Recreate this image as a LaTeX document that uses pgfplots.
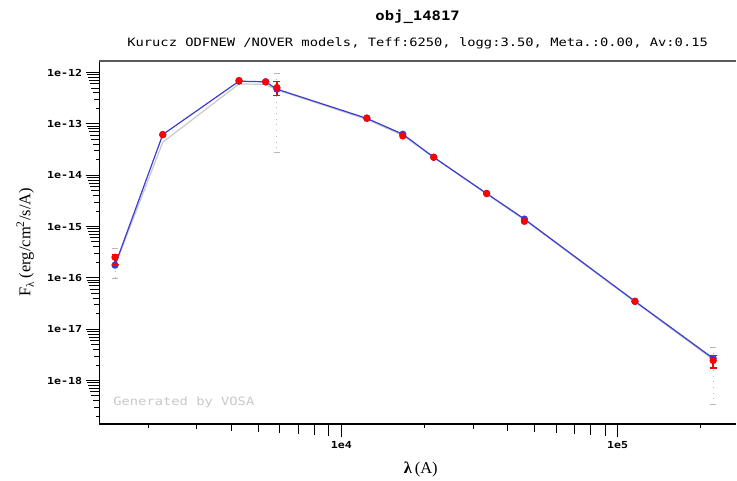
\documentclass[border=0pt]{standalone}
\usepackage{fontspec}
\usepackage{pgfplots}
\pgfplotsset{compat=1.18}
\newfontfamily\vmono[FakeStretch=1.2]{DejaVu Sans Mono}
\newfontfamily\vserif{Liberation Serif}
\definecolor{modblue}{RGB}{60,60,210}
\definecolor{modgray}{RGB}{200,200,200}
\definecolor{errgray}{RGB}{185,185,185}
\definecolor{topgray}{RGB}{90,90,90}
\definecolor{vosagray}{RGB}{200,200,200}

\pgfplotsset{
  vosabase/.style={
    scale only axis, width=638pt, height=364pt,
    xmin=1330, xmax=268300, ymin=1.42e-19, ymax=1.71e-12,
    tick align=outside, tick pos=left,
    minor tick length=0pt,
    tick style={black, line width=1pt},
    axis line style={draw=none},
  },
  tickov/.style={vosabase, xticklabels={}, yticklabels={}, major tick length=#1},
}

\begin{document}
\begin{tikzpicture}
% graded minor ticks (mantissa 2..9)
\begin{loglogaxis}[tickov=3.5pt, xtick={2e3,2e4,2e5}, ytick={2e-19,2e-18,2e-17,2e-16,2e-15,2e-14,2e-13}]\end{loglogaxis}
\begin{loglogaxis}[tickov=5pt, xtick={3e3,3e4}, ytick={3e-19,3e-18,3e-17,3e-16,3e-15,3e-14,3e-13}]\end{loglogaxis}
\begin{loglogaxis}[tickov=6.5pt, xtick={4e3,4e4}, ytick={4e-19,4e-18,4e-17,4e-16,4e-15,4e-14,4e-13}]\end{loglogaxis}
\begin{loglogaxis}[tickov=7.7pt, xtick={5e3,5e4}, ytick={5e-19,5e-18,5e-17,5e-16,5e-15,5e-14,5e-13}]\end{loglogaxis}
\begin{loglogaxis}[tickov=8.8pt, xtick={6e3,6e4}, ytick={6e-19,6e-18,6e-17,6e-16,6e-15,6e-14,6e-13}]\end{loglogaxis}
\begin{loglogaxis}[tickov=10pt, xtick={7e3,7e4}, ytick={7e-19,7e-18,7e-17,7e-16,7e-15,7e-14,7e-13}]\end{loglogaxis}
\begin{loglogaxis}[tickov=11.2pt, xtick={8e3,8e4}, ytick={8e-19,8e-18,8e-17,8e-16,8e-15,8e-14,8e-13}]\end{loglogaxis}
\begin{loglogaxis}[tickov=12.3pt, xtick={9e3,9e4}, ytick={9e-19,9e-18,9e-17,9e-16,9e-15,9e-14,9e-13}]\end{loglogaxis}

\begin{loglogaxis}[vosabase, clip=false,
  major tick length=13.5pt,
  xtick={1e4,1e5}, xticklabels={1e4,1e5},
  ytick={1e-18,1e-17,1e-16,1e-15,1e-14,1e-13,1e-12},
  yticklabels={1e-18,1e-17,1e-16,1e-15,1e-14,1e-13,1e-12},
  ticklabel style={font=\vmono\bfseries\fontsize{9.7}{10}\selectfont},
]
% axis frame
\draw[black, line width=1.2pt] (rel axis cs:0,1) -- (rel axis cs:0,0) -- (rel axis cs:1,0);
\draw[topgray, line width=1.8pt] (rel axis cs:0,1) -- (rel axis cs:1,1);

% second model (gray)
\addplot[modgray, line width=1.2pt] coordinates {
 (1518,1.70e-16) (2260,4.4e-14) (4266,6.0e-13) (5325,5.9e-13) (5848,4.6e-13)
 (12375,1.22e-13) (16693,6.0e-14) (21610,2.2e-14) (33580,4.3e-15)
 (45970,1.35e-15) (115500,3.4e-17) (221600,2.55e-18)};

% best-fit model (blue)
\addplot[modblue, line width=1.2pt, mark=*, mark size=3pt, mark options={fill=modblue, draw=modblue}] coordinates {
 (1518,1.77e-16) (2260,6.2e-14) (4266,6.8e-13) (5325,6.6e-13) (5848,4.75e-13)
 (12375,1.28e-13) (16693,6.3e-14) (21610,2.24e-14) (33580,4.4e-15)
 (45970,1.4e-15) (115500,3.5e-17) (221600,2.7e-18)};

% gray dotted error bars
\addplot[errgray, line width=0.9pt, dash pattern=on 1pt off 4.7pt, mark=-, mark size=3.3pt, mark options={solid, line width=1pt}] coordinates {(1518,3.8e-16) (1518,9.8e-17)};
\addplot[errgray, line width=0.9pt, dash pattern=on 1pt off 4.7pt, mark=-, mark size=3.3pt, mark options={solid, line width=1pt}] coordinates {(5848,9.7e-13) (5848,2.72e-14)};
\addplot[errgray, line width=0.9pt, dash pattern=on 1pt off 4.7pt, mark=-, mark size=3.3pt, mark options={solid, line width=1pt}] coordinates {(221600,4.47e-18) (221600,3.42e-19)};

% red error bars
\addplot[red, line width=1.5pt, mark=-, mark size=3.5pt, mark options={solid, line width=1.5pt}] coordinates {(1518,2.88e-16) (1518,1.84e-16)};
\addplot[red, line width=1.5pt, mark=-, mark size=3.5pt, mark options={solid, line width=1.5pt}] coordinates {(5848,6.7e-13) (5848,3.57e-13)};
\addplot[red, line width=1.5pt, mark=-, mark size=3.5pt, mark options={solid, line width=1.5pt}] coordinates {(221600,3.05e-18) (221600,1.74e-18)};

% observed photometry
\addplot[only marks, mark=*, mark size=3.4pt, red, mark options={fill=red, draw=red}] coordinates {
 (1518,2.52e-16) (2260,6.16e-14) (4266,7.0e-13) (5325,6.6e-13) (5848,5.1e-13)
 (12375,1.30e-13) (16693,5.82e-14) (21610,2.24e-14) (33580,4.41e-15)
 (45970,1.26e-15) (115500,3.48e-17) (221600,2.45e-18)};

% texts
\node[font=\vmono\bfseries\fontsize{13}{15}\selectfont] at ([yshift=44pt]rel axis cs:0.5,1) {obj\_14817};
\node[font=\vmono\fontsize{11.5}{13}\selectfont] at ([yshift=17pt]rel axis cs:0.5,1) {Kurucz ODFNEW /NOVER models, Teff:6250, logg:3.50, Meta.:0.00, Av:0.15};
\node[font=\vmono\fontsize{11.5}{13}\selectfont, text=vosagray, anchor=west, inner sep=0pt] at ([xshift=14pt,yshift=22pt]rel axis cs:0,0) {Generated by VOSA};
\node[font=\vserif\fontsize{16.5}{18}\selectfont, rotate=90] at ([xshift=-74pt]rel axis cs:0,0.5) {F\raisebox{-0.45ex}{\fontsize{11}{12}\selectfont λ} (erg/cm\textsuperscript{2}/s/A)};
\node[font=\vserif\fontsize{16.5}{18}\selectfont] at ([yshift=-46pt]rel axis cs:0.505,0) {\textbf{λ}\,(A)};
\end{loglogaxis}
\path ([xshift=-99.3pt,yshift=-54.7pt]current axis.south west) rectangle ([yshift=60.7pt]current axis.north east);
\end{tikzpicture}
\end{document}
